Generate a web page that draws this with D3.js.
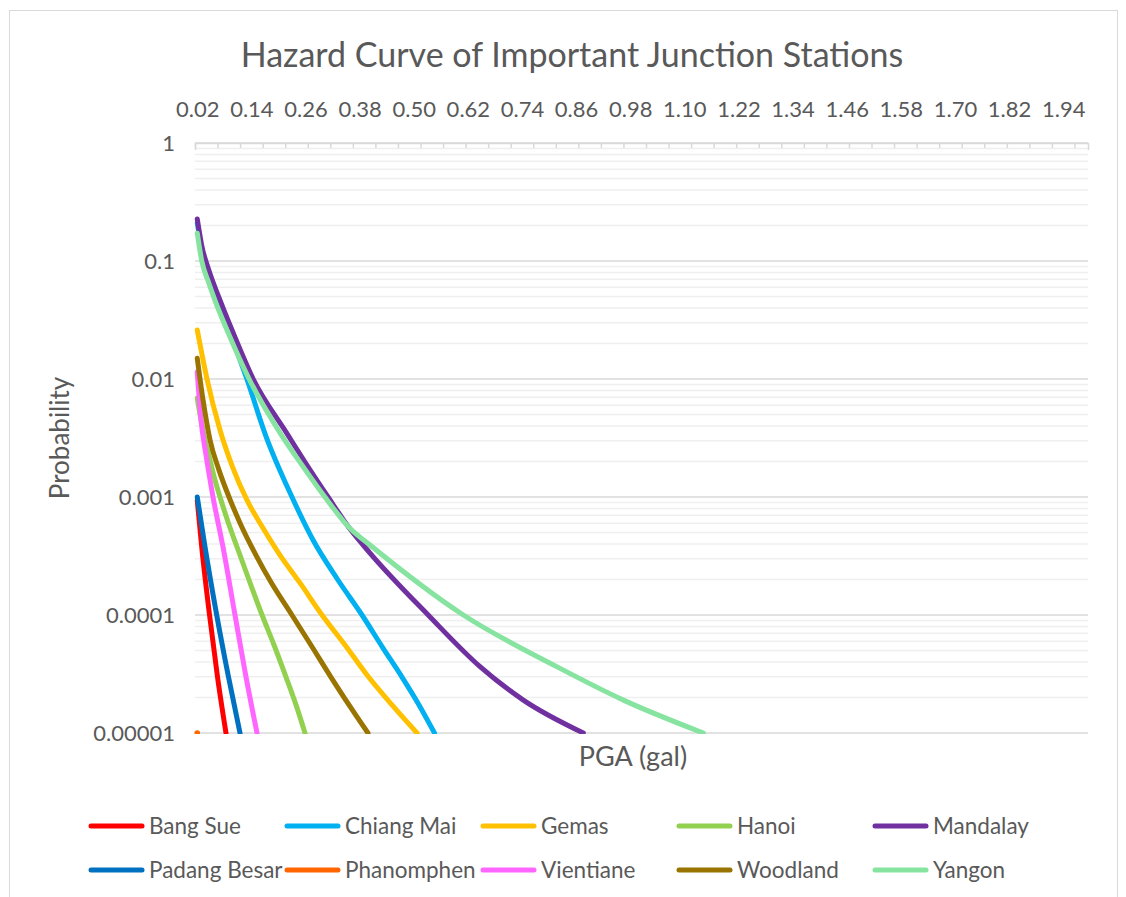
<!DOCTYPE html>
<html><head><meta charset="utf-8">
<script src="https://cdn.jsdelivr.net/npm/d3@7"></script>
<style>
body{margin:0;background:#fff}
text{font-family:Lato,"Open Sans",sans-serif;fill:#595959}
</style>
</head><body>
<svg id="chart" width="1126" height="897"></svg>
<script>
// ---- data (PGA in g, annual probability) ----
const seriesNames = ["Bang Sue","Chiang Mai","Gemas","Hanoi","Mandalay","Padang Besar","Phanomphen","Vientiane","Woodland","Yangon"];
const seriesColors = ["#FF0000","#00B0F0","#FFC000","#92D050","#7030A0","#0070C0","#FF6600","#FF66FF","#9A7400","#86E3A0"];

const bangSue     = [[0.02,9.4e-4],[0.0299,3.77e-4],[0.0472,1e-4],[0.0649,2.98e-5],[0.0837,1e-5]];
const chiangMai   = [[0.02,0.21],[0.03,0.125],[0.045,0.075],[0.065,0.047],[0.093,0.0244],[0.13,0.01],[0.172,0.0033],[0.230,0.001],[0.2767,4.32e-4],[0.332,1.98e-4],[0.3853,1e-4],[0.4319,5.25e-5],[0.474,2.98e-5],[0.5117,1.73e-5],[0.546,1e-5]];
const gemas       = [[0.02,0.026],[0.0416,0.01],[0.0704,3.7e-3],[0.0992,1.76e-3],[0.1303,9.4e-4],[0.1657,5.46e-4],[0.2034,3.22e-4],[0.2478,1.87e-4],[0.2966,1e-4],[0.3476,5.57e-5],[0.3964,3.1e-5],[0.4518,1.73e-5],[0.5072,1e-5]];
const hanoi       = [[0.02,6.9e-3],[0.0283,4.5e-3],[0.0372,3.04e-3],[0.0483,2.06e-3],[0.0594,1.39e-3],[0.0705,1e-3],[0.0883,6.14e-4],[0.1082,3.77e-4],[0.1348,1.98e-4],[0.1637,1e-4],[0.1902,5.57e-5],[0.2168,2.98e-5],[0.239,1.73e-5],[0.2589,1e-5]];
const mandalay    = [[0.02,0.227],[0.03,0.135],[0.045,0.085],[0.07,0.047],[0.100,0.0244],[0.144,0.01],[0.218,0.0035],[0.270,0.0017],[0.310,0.001],[0.358,5.4e-4],[0.403,3.35e-4],[0.532,1e-4],[0.647,3.65e-5],[0.743,1.9e-5],[0.876,1e-5]];
const padangBesar = [[0.02,1e-3],[0.0372,3.77e-4],[0.0631,1e-4],[0.0893,2.98e-5],[0.1148,1e-5]];
const phanomphen  = [[0.02,1e-5]];
const vientiane   = [[0.02,0.0115],[0.0283,4.5e-3],[0.0394,2.27e-3],[0.0549,1e-3],[0.0771,3.77e-4],[0.1037,1e-4],[0.1281,2.98e-5],[0.1525,1e-5]];
const woodland    = [[0.02,0.015],[0.0328,6.64e-3],[0.0483,3.04e-3],[0.0682,1.69e-3],[0.0904,1e-3],[0.1168,5.8e-4],[0.1501,3.22e-4],[0.1833,1.9e-4],[0.2299,1e-4],[0.272,5.57e-5],[0.3164,2.98e-5],[0.3564,1.73e-5],[0.3985,1e-5]];
const yangon      = [[0.02,0.172],[0.03,0.1],[0.045,0.066],[0.059,0.0467],[0.089,0.0244],[0.135,0.01],[0.2035,0.0035],[0.255,0.0018],[0.303,0.001],[0.359,5.4e-4],[0.403,3.92e-4],[0.61,1e-4],[0.817,3.65e-5],[0.965,1.9e-5],[1.142,1e-5]];

const seriesData = [bangSue,chiangMai,gemas,hanoi,mandalay,padangBesar,phanomphen,vientiane,woodland,yangon];

const xTickLabels = ["0.02","0.14","0.26","0.38","0.50","0.62","0.74","0.86","0.98","1.10","1.22","1.34","1.46","1.58","1.70","1.82","1.94"];
const yTickValues = [1,0.1,0.01,0.001,0.0001,0.00001];
const yTickLabels = ["1","0.1","0.01","0.001","0.0001","0.00001"];
const titleText = "Hazard Curve of Important Junction Stations";
const xTitle = "PGA (gal)";
const yTitle = "Probability";

// ---- layout ----
const svg = d3.select("#chart");
const L = 195, R = 1088, T = 143, B = 733;
const x = d3.scaleLinear().domain([0.015, 0.015 + (R - L) / 451]).range([L, R]);
const y = d3.scaleLog().domain([1e-5, 1]).range([B, T]);

svg.append("rect").attr("x",9.5).attr("y",10.5).attr("width",1108).attr("height",900)
  .attr("fill","#fff").attr("stroke","#d9d9d9").attr("stroke-width",1);

// minor gridlines
const minor = [];
for (let e = -5; e < 0; e++) for (let m = 2; m <= 9; m++) minor.push(m * Math.pow(10, e));
svg.append("g").selectAll("line").data(minor).join("line")
  .attr("x1",L).attr("x2",R).attr("y1",d=>y(d)).attr("y2",d=>y(d))
  .attr("stroke","#efefef").attr("stroke-width",1.5);
// major gridlines
svg.append("g").selectAll("line").data(yTickValues).join("line")
  .attr("x1",L).attr("x2",R).attr("y1",d=>y(d)).attr("y2",d=>y(d))
  .attr("stroke","#d9d9d9").attr("stroke-width",1.5);

// top category axis ticks
const tickVals = d3.range(0, 40).map(i => 0.015 + i * 0.05);
const gTicks = svg.append("g").attr("transform",`translate(0,${T})`)
  .call(d3.axisTop(x).tickValues(tickVals).tickSizeInner(-5).tickSizeOuter(-7).tickFormat(""));
gTicks.selectAll("path,line").attr("stroke","#d9d9d9").attr("stroke-width",1.5);

const gLab = svg.append("g").attr("transform",`translate(0,${T})`)
  .call(d3.axisTop(x).tickValues(xTickLabels.map(Number)).tickSize(0).tickPadding(26)
    .tickFormat((d,i)=>xTickLabels[i]));
gLab.select(".domain").remove();
gLab.selectAll("text").attr("font-size",22).attr("fill","#595959").style("font-family","Lato");

// y axis labels
const gY = svg.append("g").attr("transform",`translate(${L},0)`)
  .call(d3.axisLeft(y).tickValues(yTickValues).tickSize(0).tickPadding(20)
    .tickFormat((d,i)=>yTickLabels[i]));
gY.select(".domain").remove();
gY.selectAll("text").attr("font-size",22).attr("fill","#595959").style("font-family","Lato");

// clip
svg.append("clipPath").attr("id","plotclip").append("rect")
  .attr("x",L-5).attr("y",T-5).attr("width",R-L+5).attr("height",B-T+6);

const line = d3.line().x(d=>x(d[0])).y(d=>y(d[1])).curve(d3.curveMonotoneX);
const gS = svg.append("g").attr("clip-path","url(#plotclip)");
seriesData.forEach((s,i)=>{
  if (s.length > 1) {
    gS.append("path").attr("d",line(s)).attr("fill","none")
      .attr("stroke",seriesColors[i]).attr("stroke-width",5)
      .attr("stroke-linecap","round").attr("stroke-linejoin","round");
  } else {
    gS.append("circle").attr("cx",x(s[0][0])).attr("cy",y(s[0][1])).attr("r",2.8)
      .attr("fill",seriesColors[i]);
  }
});

// titles
svg.append("text").attr("x",572).attr("y",67).attr("text-anchor","middle")
  .attr("font-size",34).text(titleText);
svg.append("text").attr("x",633).attr("y",757).attr("dy","0.35em").attr("text-anchor","middle")
  .attr("font-size",27).text(xTitle);
svg.append("text").attr("transform","translate(60,438) rotate(-90)").attr("dy","0.35em")
  .attr("text-anchor","middle").attr("font-size",26).text(yTitle);

// legend
const leg = svg.append("g");
seriesNames.forEach((n,i)=>{
  const cx = 89 + 196 * (i % 5), cy = i < 5 ? 826 : 870;
  leg.append("line").attr("x1",cx+2).attr("x2",cx+53).attr("y1",cy).attr("y2",cy)
    .attr("stroke",seriesColors[i]).attr("stroke-width",5).attr("stroke-linecap","round");
  leg.append("text").attr("x",cx+60).attr("y",cy).attr("dy","0.35em")
    .attr("font-size",22.5).text(n);
});
</script>
</body></html>
